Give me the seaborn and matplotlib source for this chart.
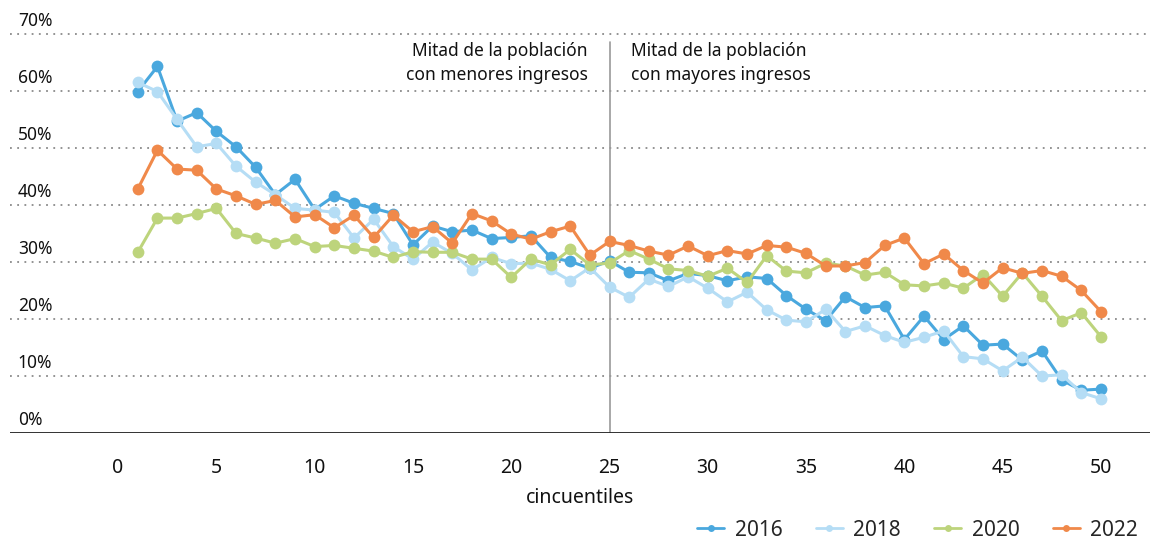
import pandas as pd
import matplotlib.pyplot as plt
import seaborn as sns
from matplotlib.lines import Line2D

# Share per cincuentil (%)
cincuentiles = list(range(1, 51))
v2016 = [59.9, 64.3, 54.7, 56.2, 52.9, 50.2, 46.6, 41.8, 44.5, 39.2,
         41.6, 40.3, 39.4, 38.5, 33.0, 36.3, 35.3, 35.6, 34.1, 34.3,
         34.6, 30.8, 30.1, 28.9, 30.2, 28.2, 28.1, 26.7, 28.0, 27.6,
         26.7, 27.4, 27.1, 24.1, 21.7, 19.7, 23.9, 22.0, 22.3, 16.4,
         20.5, 16.4, 18.8, 15.4, 15.6, 12.8, 14.4, 9.3, 7.5, 7.7]
v2018 = [61.5, 59.9, 55.0, 50.2, 50.8, 46.8, 44.0, 41.8, 39.4, 39.1,
         38.7, 34.2, 37.5, 32.7, 30.5, 33.5, 31.5, 28.6, 30.8, 29.7,
         29.8, 28.7, 26.7, 29.0, 25.6, 23.8, 27.0, 25.7, 27.4, 25.4,
         23.0, 24.7, 21.6, 19.8, 19.5, 21.7, 17.8, 18.8, 17.1, 15.9,
         16.8, 17.9, 13.4, 13.0, 10.9, 13.3, 10.0, 10.2, 7.1, 6.0]
v2020 = [31.7, 37.7, 37.7, 38.5, 39.4, 35.0, 34.2, 33.3, 34.1, 32.7,
         32.9, 32.4, 31.9, 30.8, 31.8, 31.7, 31.7, 30.5, 30.5, 27.3,
         30.5, 29.5, 32.2, 29.5, 29.8, 32.0, 30.5, 28.8, 28.5, 27.5,
         28.9, 26.4, 31.1, 28.4, 28.1, 29.8, 29.3, 27.7, 28.2, 26.0,
         25.8, 26.3, 25.4, 27.8, 24.0, 28.1, 24.0, 19.7, 21.1, 16.9]
v2022 = [42.8, 49.6, 46.3, 46.1, 42.8, 41.6, 40.1, 40.8, 37.9, 38.3,
         36.0, 38.2, 34.3, 38.2, 35.3, 36.2, 33.3, 38.5, 37.2, 34.9,
         34.0, 35.3, 36.3, 31.2, 33.6, 32.9, 31.9, 31.2, 32.8, 31.1,
         32.0, 31.4, 32.9, 32.6, 31.5, 29.3, 29.3, 29.9, 32.9, 34.2,
         29.7, 31.4, 28.5, 26.3, 29.0, 28.0, 28.5, 27.5, 25.0, 21.3]
years = ['2016', '2018', '2020', '2022']
colors = ['#4aa8de', '#b5ddf5', '#bdd47c', '#f0894a']
y_ticks = [0, 10, 20, 30, 40, 50, 60, 70]
x_ticks = [0, 5, 10, 15, 20, 25, 30, 35, 40, 45, 50]

df = pd.DataFrame({'cincuentil': cincuentiles * 4,
                   'valor': v2016 + v2018 + v2020 + v2022,
                   'año': sum([[y] * 50 for y in years], [])})

sns.set_style("white")
plt.rcParams['font.family'] = ['Noto Sans', 'DejaVu Sans']
plt.rcParams['font.weight'] = 'medium'

fig = plt.figure(figsize=(11.51, 5.43), dpi=100)
ax = fig.add_axes([0.0087, 0.2026, 0.9905, 0.7422])

sns.lineplot(data=df, x='cincuentil', y='valor', hue='año', hue_order=years,
             palette=colors, marker='o', markersize=8.5, markeredgewidth=0,
             linewidth=2.2, legend=False, ax=ax)

ax.set_xlim(-5.5, 52.5)
ax.set_ylim(0, 70.7)

# dotted horizontal gridlines with labels sitting above them
for t in y_ticks:
    if t > 0:
        ax.axhline(t, color='#8a8a8a', linestyle=(0, (1, 3)), linewidth=1.3, zorder=0)
    ax.text(-5.1, t + 0.7, f'{t}%', fontsize=12.5, color='#111111',
            ha='left', va='bottom')
ax.axhline(0, color='#222222', linewidth=1.3)

ax.axvline(25, ymax=0.97, color='#9a9a9a', linewidth=1.2, zorder=0)
ax.text(23.9, 68.6, 'Mitad de la población\ncon menores ingresos', fontsize=12.5,
        ha='right', va='top', color='#111111', linespacing=1.4)
ax.text(26.1, 68.6, 'Mitad de la población\ncon mayores ingresos', fontsize=12.5,
        ha='left', va='top', color='#111111', linespacing=1.4)

ax.set_xticks(x_ticks)
ax.set_yticks([])
ax.tick_params(axis='x', length=0, labelsize=14, pad=18, colors='#111111')
ax.set_xlabel('cincuentiles', fontsize=14, color='#111111', labelpad=7)
ax.set_ylabel('')
sns.despine(ax=ax, left=True, top=True, right=True, bottom=True)

handles = [Line2D([0], [0], color=c, marker='o', markersize=5, linewidth=2,
                  markeredgewidth=0) for c in colors]
fig.legend(handles, years, loc='lower right', bbox_to_anchor=(1.005, -0.03),
           ncol=4, frameon=False, fontsize=15, handlelength=1.3,
           columnspacing=1.6, handletextpad=0.5)

fig.savefig('out.png', dpi=100)
